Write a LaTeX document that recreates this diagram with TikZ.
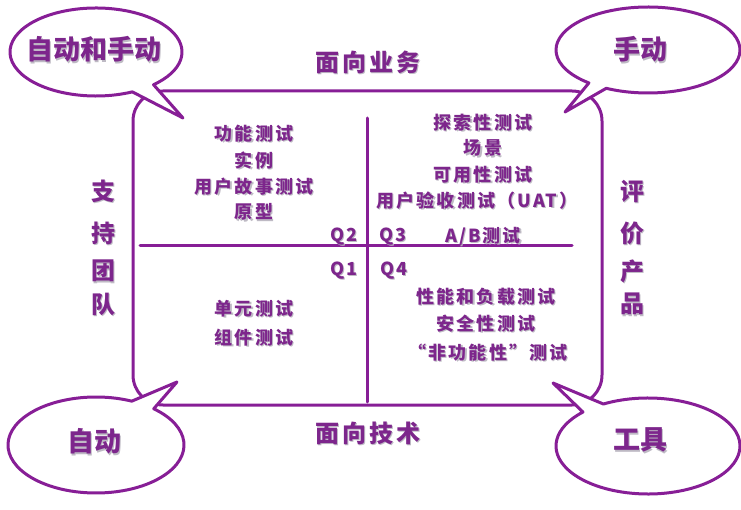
\documentclass[tikz,border=0pt]{standalone}
\usepackage{fontspec}
\setmainfont{Noto Sans CJK SC}
\definecolor{qpurple}{RGB}{125,38,140}
\definecolor{qline}{RGB}{135,30,150}
\definecolor{qshadow}{RGB}{190,186,196}
\newcommand\shtext[1]{\leavevmode\rlap{\kern1.3pt\raisebox{-1.5pt}{\textcolor{qshadow}{#1}}}#1}

\begin{document}
\begin{tikzpicture}[x=1pt, y=-1pt, line join=round, line cap=round,
	every node/.style={text=qpurple, inner sep=0pt, outer sep=0pt},
	txt/.style={font=\fontsize{18}{18}\selectfont\bfseries\addfontfeature{LetterSpace=12}},
	big/.style={font=\fontsize{24}{24}\selectfont\bfseries\addfontfeature{LetterSpace=12}},
	bubtxt/.style={font=\fontsize{27}{27}\selectfont\bfseries},
	frame/.style={draw=qline, line width=3pt},
	bubble/.style={draw=qline, fill=white, line width=3pt}]
	
	\useasboundingbox (0,0) rectangle (741,510);
	
	% Khung chính
	\draw[frame, rounded corners=30pt] (133,91) rectangle (602,405);
	\coordinate (hl) at (140,246);
	\coordinate (hr) at (572,246);
	\coordinate (vt) at (367,118);
	\coordinate (vb) at (367,402);
	\draw[frame] (hl) -- (hr);
	\draw[frame] (vt) -- (vb);
	
	% Bong bóng
	\draw[bubble] (96,52) ++(65:86 and 44) arc[start angle=65, end angle=408, x radius=86, y radius=44] -- (183,118) -- cycle;
	\draw[bubble] (648,50) ++(130:92 and 43) arc[start angle=130, end angle=477, x radius=92, y radius=43] -- (565,112) -- cycle;
	\draw[bubble] (96,445) ++(311:88 and 48) arc[start angle=311, end angle=654, x radius=88, y radius=48] -- (177,382) -- cycle;
	\draw[bubble] (648,446) ++(241:92 and 48) arc[start angle=241, end angle=585, x radius=92, y radius=48] -- (553,383) -- cycle;
	
	\node[bubtxt] (tl) at (94,50) {\shtext{自动和手动}};
	\node[bubtxt] (tr) at (640,50) {\shtext{手动}};
	\node[bubtxt] (bl) at (94,442) {\shtext{自动}};
	\node[bubtxt] (br) at (640,441) {\shtext{工具}};
	
	% Nhãn bốn phía
	\node[big] (top) at (368,63) {\shtext{面向业务}};
	\node[big] (bot) at (368,434) {\shtext{面向技术}};
	\node[big] (l1) at (103,192) {\shtext{支}};
	\node[big] (l2) at (103,234) {\shtext{持}};
	\node[big] (l3) at (103,272) {\shtext{团}};
	\node[big] (l4) at (103,305) {\shtext{队}};
	\node[big] (r1) at (632,192) {\shtext{评}};
	\node[big] (r2) at (632,234) {\shtext{价}};
	\node[big] (r3) at (632,272) {\shtext{产}};
	\node[big] (r4) at (632,305) {\shtext{品}};
	
	% Q2
	\node[txt] (q2a) at (254,134) {\shtext{功能测试}};
	\node[txt] (q2b) at (254,161) {\shtext{实例}};
	\node[txt] (q2c) at (254,187) {\shtext{用户故事测试}};
	\node[txt] (q2d) at (254,213) {\shtext{原型}};
	\node[txt] (q2) at (344,237) {\shtext{Q2}};
	
	% Q3
	\node[txt] (q3a) at (483,123) {\shtext{探索性测试}};
	\node[txt] (q3b) at (483,149) {\shtext{场景}};
	\node[txt] (q3c) at (483,175) {\shtext{可用性测试}};
	\node[txt] (q3d) at (477,201) {\shtext{用户验收测试（UAT）}};
	\node[txt] (q3) at (393,237) {\shtext{Q3}};
	\node[txt] (q3e) at (483,237) {\shtext{A/B测试}};
	
	% Q1
	\node[txt] (q1) at (344,271) {\shtext{Q1}};
	\node[txt] (q1a) at (254,309) {\shtext{单元测试}};
	\node[txt] (q1b) at (254,338) {\shtext{组件测试}};
	
	% Q4
	\node[txt] (q4) at (394,271) {\shtext{Q4}};
	\node[txt] (q4a) at (486,297) {\shtext{性能和负载测试}};
	\node[txt] (q4b) at (486,324) {\shtext{安全性测试}};
	\node[txt] (q4c) at (488,353) {\shtext{“非功能性”测试}};
\end{tikzpicture}
\end{document}
